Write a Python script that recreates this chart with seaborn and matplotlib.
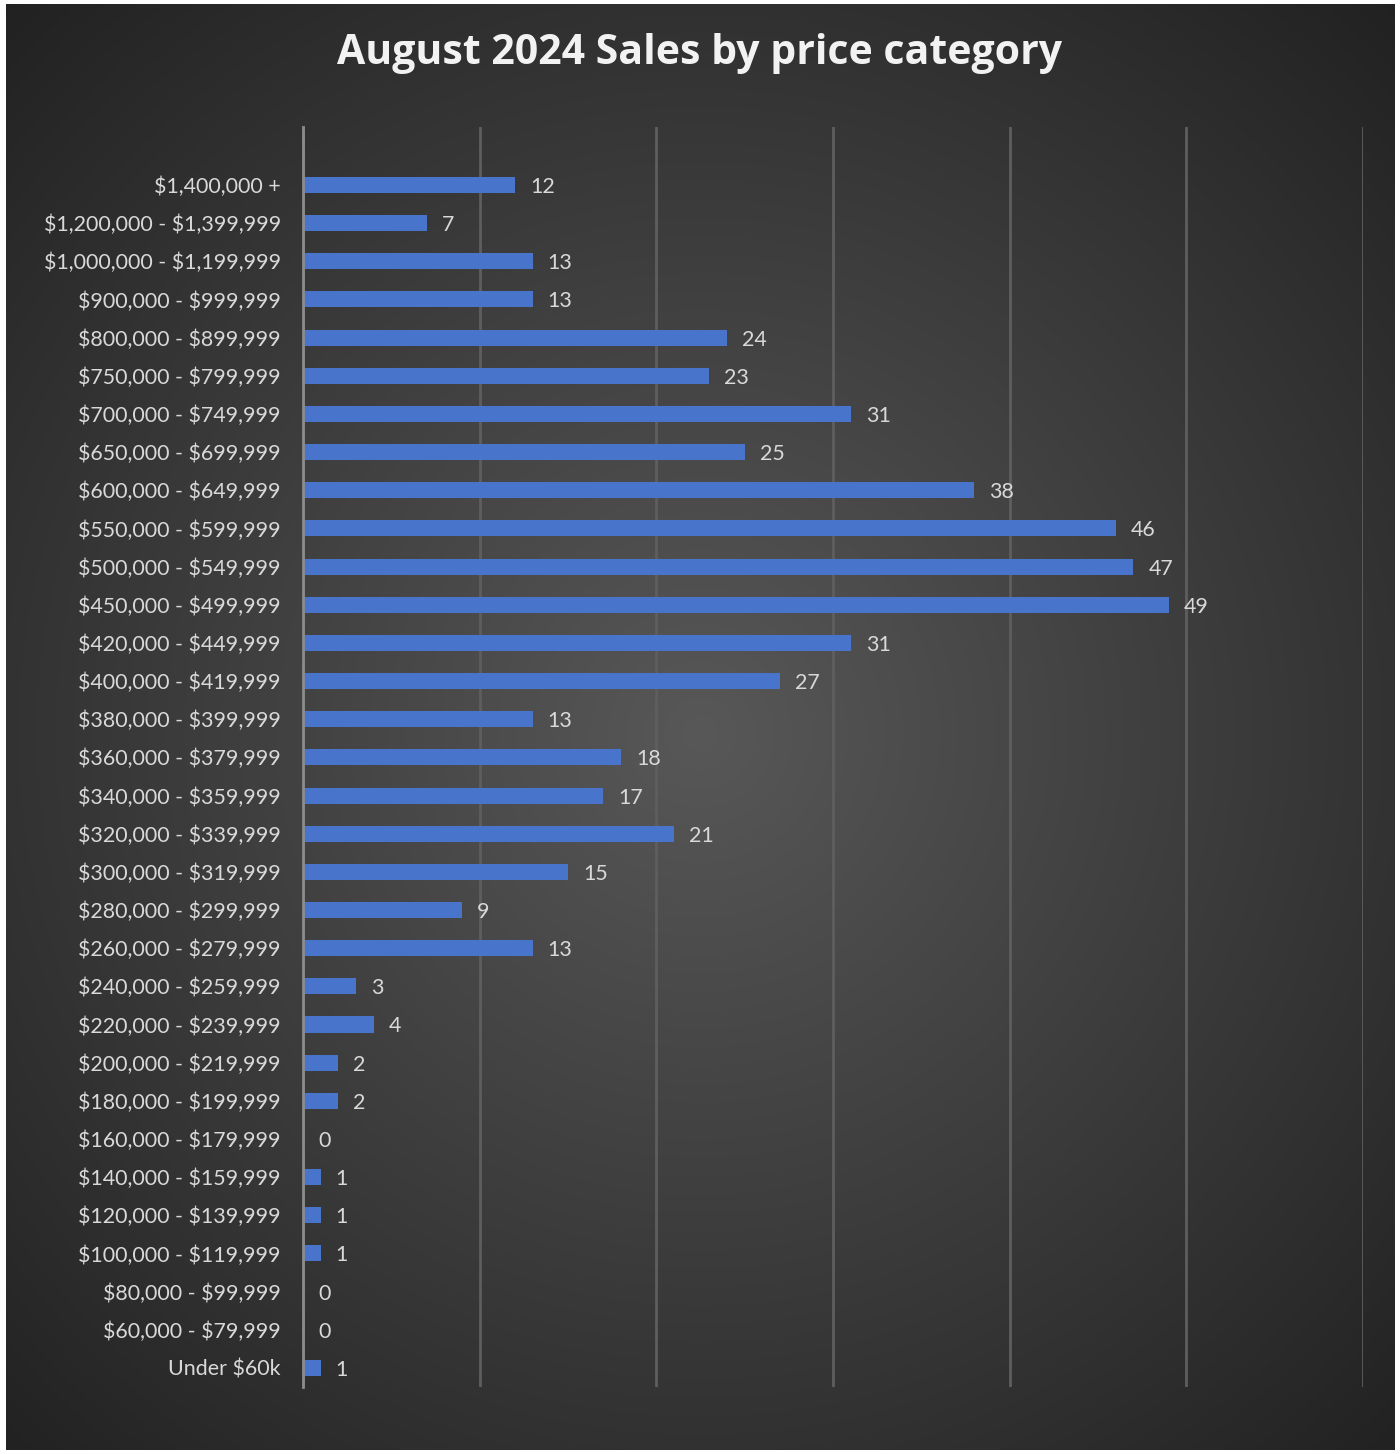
import numpy as np
import pandas as pd
import matplotlib
matplotlib.use("Agg")
import matplotlib.pyplot as plt
import seaborn as sns

categories = [
    "$1,400,000 +", "$1,200,000 - $1,399,999", "$1,000,000 - $1,199,999",
    "$900,000 - $999,999", "$800,000 - $899,999", "$750,000 - $799,999",
    "$700,000 - $749,999", "$650,000 - $699,999", "$600,000 - $649,999",
    "$550,000 - $599,999", "$500,000 - $549,999", "$450,000 - $499,999",
    "$420,000 - $449,999", "$400,000 - $419,999", "$380,000 - $399,999",
    "$360,000 - $379,999", "$340,000 - $359,999", "$320,000 - $339,999",
    "$300,000 - $319,999", "$280,000 - $299,999", "$260,000 - $279,999",
    "$240,000 - $259,999", "$220,000 - $239,999", "$200,000 - $219,999",
    "$180,000 - $199,999", "$160,000 - $179,999", "$140,000 - $159,999",
    "$120,000 - $139,999", "$100,000 - $119,999", "$80,000 - $99,999",
    "$60,000 - $79,999", "Under $60k",
]
sales = [12, 7, 13, 13, 24, 23, 31, 25, 38, 46, 47, 49, 31, 27, 13, 18, 17, 21,
         15, 9, 13, 3, 4, 2, 2, 0, 1, 1, 1, 0, 0, 1]
title = "August 2024 Sales by price category"

sns.set_theme(style="dark")
plt.rcParams['font.family'] = ['Lato', 'DejaVu Sans']
plt.rcParams['text.parse_math'] = False

W, H = 1400, 1454
fig = plt.figure(figsize=(W / 100, H / 100), dpi=100, facecolor="white")

# radial gradient background
bg = fig.add_axes([6 / W, 4 / H, 1389 / W, 1446 / H], zorder=0)
yy, xx = np.mgrid[0:1446, 0:1389]
cx, cy = 694, 730
r = np.sqrt((xx - cx) ** 2 + (yy - cy) ** 2) / 1011.0
v = np.clip(0.345 - 0.215 * r, 0, 1)
bg.imshow(np.dstack([v, v, v]), aspect="auto", extent=[0, 1, 0, 1], origin="upper")
bg.set_axis_off()

df = pd.DataFrame({"cat": categories, "sales": sales})

ax = fig.add_axes([303 / W, 1 - 1387 / H, 1060 / W, 1260 / H], zorder=1)
ax.patch.set_alpha(0)
sns.barplot(data=df, y="cat", x="sales", orient="h", color="#4874cb",
            width=0.42, saturation=1, linewidth=0, edgecolor="none",
            ax=ax, zorder=3)
ax.set_xlim(0, 60)
ax.set_ylim(31.5, -1.52)
ax.set_xticks(range(0, 61, 10))
ax.set_xticklabels([])
ax.tick_params(axis="x", length=0)
ax.xaxis.grid(True, color="#5e5e5e", linewidth=2, zorder=1)
ax.yaxis.grid(False)
for s in ["top", "right", "bottom"]:
    ax.spines[s].set_visible(False)
ax.spines["left"].set_color("#8c8c8c")
ax.spines["left"].set_linewidth(2)
ax.spines["left"].set_zorder(4)
ax.set_xlabel("")
ax.set_ylabel("")
ax.tick_params(axis="y", length=0, pad=16, labelsize=15.4, labelcolor="#d9d9d9")

for i, val in enumerate(sales):
    ax.annotate(str(val), xy=(val, i), xytext=(15, -2), textcoords="offset pixels",
                ha="left", va="center", fontsize=15.4, color="#d9d9d9")

fig.text(0.5, 1 - 54 / H, title, ha="center", va="center", fontsize=29.5,
         fontweight="bold", color="#f2f2f2", family=["Open Sans", "DejaVu Sans"])

fig.savefig("out.png", dpi=100, facecolor="white")
